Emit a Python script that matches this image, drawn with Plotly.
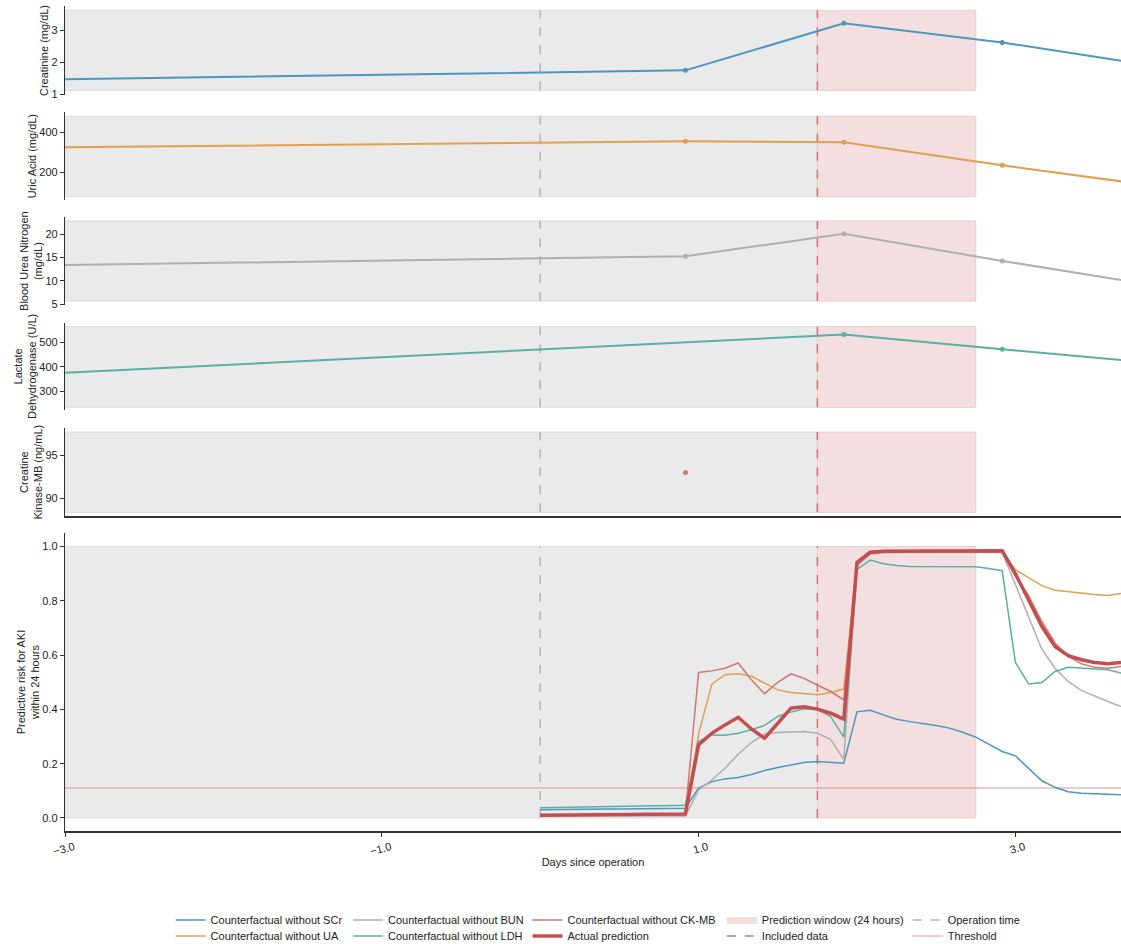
import plotly.graph_objects as go
from plotly.subplots import make_subplots

# ---------------- data ----------------
# lab measurement times (days since operation)
lab_days = [-3.5, 0.917, 1.917, 2.917, 3.917]
creatinine = [1.434, 1.75, 3.22, 2.62, 1.86]
uric_acid = [321, 355, 350, 235, 128]
bun = [13.16, 15.3, 20.1, 14.3, 8.83]
ldh_days = [-3.5, 1.917, 2.917, 3.917]
ldh = [360, 532, 472, 413]
ckmb_days = [0.917]
ckmb = [93.0]

# risk predictions every 2 hours from operation (hours)
hours = list(range(0, 90, 2))
risk_no_scr = [0.030, 0.031, 0.031, 0.032, 0.032, 0.033, 0.033, 0.034, 0.034, 0.035, 0.035, 0.036,
               0.110, 0.134, 0.144, 0.149, 0.160, 0.175, 0.186, 0.196, 0.204, 0.208, 0.205, 0.202,
               0.391, 0.397, 0.380, 0.364, 0.355, 0.348, 0.341, 0.331, 0.316, 0.298, 0.273, 0.245,
               0.229, 0.183, 0.137, 0.113, 0.097, 0.091, 0.089, 0.087, 0.086]
risk_no_ua = [0.011, 0.011, 0.012, 0.012, 0.012, 0.013, 0.013, 0.013, 0.014, 0.014, 0.015, 0.015,
              0.310, 0.493, 0.528, 0.531, 0.522, 0.497, 0.472, 0.462, 0.459, 0.454, 0.462, 0.475,
              0.940, 0.978, 0.982, 0.982, 0.982, 0.982, 0.982, 0.982, 0.982, 0.982, 0.982, 0.982,
              0.915, 0.884, 0.856, 0.839, 0.833, 0.827, 0.823, 0.820, 0.827]
risk_no_bun = [0.009, 0.009, 0.009, 0.008, 0.008, 0.008, 0.008, 0.008, 0.007, 0.007, 0.007, 0.007,
               0.103, 0.140, 0.183, 0.235, 0.278, 0.309, 0.315, 0.317, 0.319, 0.312, 0.290, 0.216,
               0.927, 0.973, 0.977, 0.978, 0.978, 0.978, 0.978, 0.978, 0.978, 0.978, 0.978, 0.978,
               0.860, 0.743, 0.622, 0.552, 0.503, 0.470, 0.448, 0.429, 0.411]
risk_no_ldh = [0.038, 0.039, 0.040, 0.040, 0.041, 0.042, 0.043, 0.044, 0.044, 0.045, 0.046, 0.047,
               0.282, 0.306, 0.305, 0.312, 0.325, 0.341, 0.374, 0.390, 0.402, 0.400, 0.374, 0.298,
               0.915, 0.950, 0.937, 0.930, 0.927, 0.927, 0.927, 0.927, 0.927, 0.926, 0.919, 0.911,
               0.573, 0.494, 0.499, 0.540, 0.555, 0.552, 0.549, 0.546, 0.534]
risk_no_ckmb = [0.011, 0.011, 0.012, 0.012, 0.013, 0.013, 0.014, 0.014, 0.015, 0.015, 0.016, 0.016,
                0.536, 0.542, 0.552, 0.571, 0.509, 0.458, 0.500, 0.531, 0.514, 0.491, 0.466, 0.435,
                0.935, 0.975, 0.980, 0.981, 0.981, 0.981, 0.981, 0.981, 0.981, 0.981, 0.981, 0.981,
                0.890, 0.819, 0.724, 0.645, 0.595, 0.568, 0.555, 0.552, 0.558]
risk_actual = [0.010, 0.010, 0.011, 0.011, 0.012, 0.012, 0.013, 0.013, 0.014, 0.014, 0.015, 0.015,
               0.270, 0.312, 0.343, 0.371, 0.328, 0.294, 0.349, 0.405, 0.410, 0.401, 0.386, 0.364,
               0.942, 0.979, 0.983, 0.984, 0.984, 0.984, 0.984, 0.984, 0.985, 0.985, 0.985, 0.985,
               0.900, 0.804, 0.706, 0.632, 0.598, 0.583, 0.573, 0.568, 0.573]

operation_day = 0.0
included_day = 1.75
window_end = 2.75
view_start = -3.0
view_end = 88 / 24
threshold = 0.11

x_ticks = [-3.0, -1.0, 1.0, 3.0]

# ---------------- styles ----------------
FONT = "Liberation Sans, Arial, Helvetica, sans-serif"
C_SCR = "#4B97C0"
C_UA = "#E0A050"
C_BUN = "#AFAFAF"
C_LDH = "#5AB0A0"
C_CKMB = "#D4766F"
C_ACT = "#C44E4E"
C_OP = "#B3B3B3"
C_INC = "#D27070"
WIN_FILL = "#F3DFDF"
WIN_EDGE = "#ECCBCB"
GRAY_FILL = "#EAEAEA"
GRAY_EDGE = "#DCDCDC"
THR = "rgba(222,140,140,0.45)"
AX = "#333333"

days = [h / 24 for h in hours]

fig = make_subplots(rows=6, cols=1, shared_xaxes=True)

# panel config: (row, title, shade_lo, shade_hi, range, ticks, fmt)
panels = [
    (1, "Creatinine (mg/dL)", 1.125, 3.625, [0.98, 3.76], [1, 2, 3], None),
    (2, "Uric Acid (mg/dL)", 78, 480, [61.5, 500], [200, 400], None),
    (3, "Blood Urea Nitrogen<br>(mg/dL)", 5.7, 22.85, [4.86, 23.64], [5, 10, 15, 20], None),
    (4, "Lactate<br>Dehydrogenase (U/L)", 235, 564, [224, 580], [300, 400, 500], None),
    (5, "Creatine<br>Kinase-MB (ng/mL)", 88.37, 97.7, [87.94, 98.14], [90, 95], None),
    (6, "Predictive risk for AKI<br>within 24 hours", 0.0, 1.0, [-0.048, 1.05],
     [0.0, 0.2, 0.4, 0.6, 0.8, 1.0], ".1f"),
]
domains = {
    1: [0.8921, 1.0],
    2: [0.7648, 0.8712],
    3: [0.6376, 0.7439],
    4: [0.5103, 0.6161],
    5: [0.3818, 0.4881],
    6: [0.0, 0.3612],
}

shapes = []
for row, title, lo, hi, rng, ticks, fmt in panels:
    yref = "y" if row == 1 else f"y{row}"
    xref = "x" if row == 1 else f"x{row}"
    shapes.append(dict(type="rect", xref=xref, yref=yref, x0=view_start, x1=included_day,
                       y0=lo, y1=hi, fillcolor=GRAY_FILL, line=dict(color=GRAY_EDGE, width=1),
                       layer="below"))
    shapes.append(dict(type="rect", xref=xref, yref=yref, x0=included_day, x1=window_end,
                       y0=lo, y1=hi, fillcolor=WIN_FILL, line=dict(color=WIN_EDGE, width=1),
                       layer="below"))
    shapes.append(dict(type="line", xref=xref, yref=yref, x0=operation_day, x1=operation_day,
                       y0=lo, y1=hi, line=dict(color=C_OP, width=1.5, dash="dash"), layer="below"))
    shapes.append(dict(type="line", xref=xref, yref=yref, x0=included_day, x1=included_day,
                       y0=lo, y1=hi, line=dict(color=C_INC, width=1.5, dash="dash"), layer="below"))
    yax = dict(domain=domains[row], range=rng, tickvals=ticks, showgrid=False, zeroline=False,
               showline=True, linecolor=AX, linewidth=1.3, ticks="outside", ticklen=4,
               tickcolor=AX, tickfont=dict(size=11, color="#222", family=FONT), automargin=False,
               title=dict(text=title, font=dict(size=11, color="#222", family=FONT), standoff=0))
    if fmt:
        yax["tickformat"] = fmt
    fig.update_layout(**{("yaxis" if row == 1 else f"yaxis{row}"): yax})

shapes.append(dict(type="line", xref="x6", yref="y6", x0=view_start, x1=view_end,
                   y0=threshold, y1=threshold, line=dict(color=THR, width=2), layer="below"))

# lab panels
lab_line = dict(width=2)
fig.add_trace(go.Scatter(x=lab_days, y=creatinine, mode="lines+markers",
                         line=dict(color=C_SCR, **lab_line), marker=dict(size=5, color=C_SCR),
                         showlegend=False), row=1, col=1)
fig.add_trace(go.Scatter(x=lab_days, y=uric_acid, mode="lines+markers",
                         line=dict(color=C_UA, **lab_line), marker=dict(size=5, color=C_UA),
                         showlegend=False), row=2, col=1)
fig.add_trace(go.Scatter(x=lab_days, y=bun, mode="lines+markers",
                         line=dict(color=C_BUN, **lab_line), marker=dict(size=5, color=C_BUN),
                         showlegend=False), row=3, col=1)
fig.add_trace(go.Scatter(x=ldh_days, y=ldh, mode="lines+markers",
                         line=dict(color=C_LDH, **lab_line), marker=dict(size=5, color=C_LDH),
                         showlegend=False), row=4, col=1)
fig.add_trace(go.Scatter(x=ckmb_days, y=ckmb, mode="markers",
                         marker=dict(size=5, color=C_CKMB), showlegend=False), row=5, col=1)

# risk panel
series = [
    ("Counterfactual without SCr", risk_no_scr, C_SCR, 1.5, "legend"),
    ("Counterfactual without UA", risk_no_ua, C_UA, 1.5, "legend2"),
    ("Counterfactual without BUN", risk_no_bun, C_BUN, 1.5, "legend3"),
    ("Counterfactual without LDH", risk_no_ldh, C_LDH, 1.5, "legend4"),
    ("Counterfactual without CK-MB", risk_no_ckmb, C_CKMB, 1.5, "legend5"),
    ("Actual prediction", risk_actual, C_ACT, 3.5, "legend6"),
]
for name, vals, color, w, lg in series:
    fig.add_trace(go.Scatter(x=days, y=vals, mode="lines", name=name,
                             line=dict(color=color, width=w), legend=lg), row=6, col=1)

# legend-only entries
fig.add_trace(go.Scatter(x=[None], y=[None], mode="lines", name="Prediction window (24 hours)",
                         fill="toself", fillcolor=WIN_FILL, line=dict(color=WIN_EDGE, width=1),
                         legend="legend7"), row=6, col=1)
fig.add_trace(go.Scatter(x=[None], y=[None], mode="lines", name="Included data",
                         line=dict(color=C_INC, width=1.5, dash="dash"), legend="legend8"),
              row=6, col=1)
fig.add_trace(go.Scatter(x=[None], y=[None], mode="lines", name="Operation time",
                         line=dict(color=C_OP, width=1.5, dash="dash"), legend="legend9"),
              row=6, col=1)
fig.add_trace(go.Scatter(x=[None], y=[None], mode="lines", name="Threshold",
                         line=dict(color=THR, width=2), legend="legend10"), row=6, col=1)

# x axes
for row in range(1, 6):
    key = "xaxis" if row == 1 else f"xaxis{row}"
    fig.update_layout(**{key: dict(range=[view_start, view_end], showgrid=False, zeroline=False,
                                   showticklabels=False, ticks="", automargin=False,
                                   showline=(row == 5), linecolor=AX, linewidth=1.5)})
fig.update_layout(xaxis6=dict(range=[view_start, view_end], tickvals=x_ticks, tickformat=".1f",
                              tickangle=-15, ticklabelshift=9, showgrid=False, zeroline=False,
                              showline=True,
                              linecolor=AX, linewidth=1.5, ticks="outside", ticklen=4,
                              tickcolor=AX, tickfont=dict(size=11, color="#222", family=FONT),
                              automargin=False,
                              title=dict(text="Days since operation",
                                         font=dict(size=11, color="#222", family=FONT),
                                         standoff=2)))

row_y = [-0.1079, -0.1273]
col_x = [0.100, 0.268, 0.438, 0.622, 0.798]
leg_common = dict(orientation="v", yanchor="middle", xanchor="left",
                  font=dict(size=11, color="#222", family=FONT), bgcolor="rgba(0,0,0,0)",
                  tracegroupgap=0, itemwidth=30)
legends = {}
for i in range(10):
    key = "legend" if i == 0 else f"legend{i + 1}"
    legends[key] = dict(x=col_x[i // 2], y=row_y[i % 2], **leg_common)
fig.update_layout(**legends)

fig.update_layout(
    width=1121, height=944,
    margin=dict(l=65, r=0, t=6, b=113, autoexpand=False),
    plot_bgcolor="white", paper_bgcolor="white",
    font=dict(family=FONT, size=11, color="#222"),
    shapes=shapes,
)

fig.write_html("out.html", config={"displayModeBar": False},
               post_script="document.body.style.margin='0';document.body.style.overflow='hidden';")
